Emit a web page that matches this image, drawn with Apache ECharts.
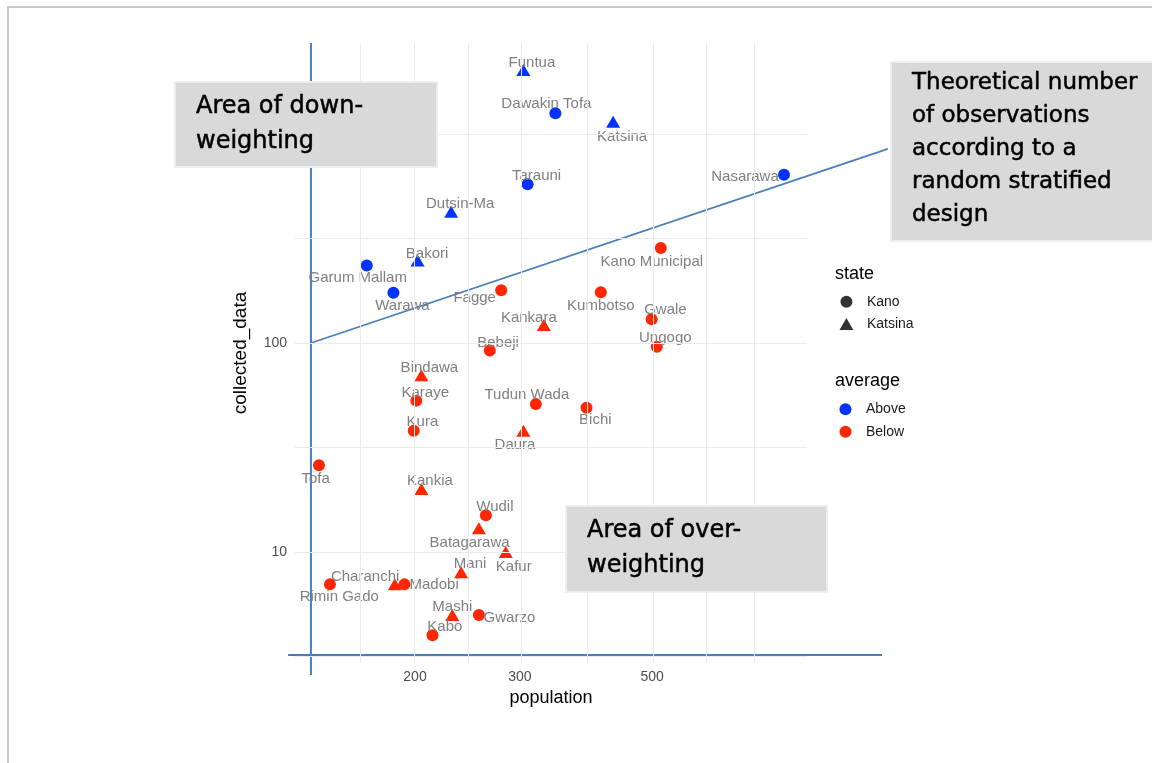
<!DOCTYPE html>
<html>
<head>
<meta charset="utf-8">
<script src="https://cdn.jsdelivr.net/npm/echarts@6/dist/echarts.min.js"></script>
<style>
html,body{margin:0;padding:0;background:#fff;}
#chart{width:1152px;height:763px;}
</style>
</head>
<body>
<div id="chart"></div>
<script>
// ---------- data ----------
const districts = ['Funtua','Dawakin Tofa','Katsina','Tarauni','Nasarawa','Dutsin-Ma','Bakori','Garum Mallam','Warawa','Fagge','Kankara','Kano Municipal','Kumbotso','Gwale','Ungogo','Bebeji','Bindawa','Karaye','Tudun Wada','Kura','Daura','Tofa','Kankia','Wudil','Batagarawa','Kafur','Mani','Charanchi','Madobi','Rimin Gado','Mashi','Gwarzo','Kabo','Bichi'];
const states = ['Katsina','Kano','Katsina','Kano','Kano','Katsina','Katsina','Kano','Kano','Kano','Katsina','Kano','Kano','Kano','Kano','Kano','Katsina','Kano','Kano','Kano','Katsina','Kano','Katsina','Kano','Katsina','Katsina','Katsina','Katsina','Kano','Kano','Katsina','Kano','Kano','Kano'];
const averages = ['Above','Above','Above','Above','Above','Above','Above','Above','Above','Below','Below','Below','Below','Below','Below','Below','Below','Below','Below','Below','Below','Below','Below','Below','Below','Below','Below','Below','Below','Below','Below','Below','Below','Below'];
const population = [304, 344, 430, 309, 832, 230, 202, 166, 184, 279, 329, 517, 410, 499, 509, 267, 205, 201, 319, 199, 304, 138, 205, 263, 256, 284, 239, 185, 192, 144, 231, 256, 214, 388];
const collectedData = [2024, 1256, 1145, 575, 639, 425, 248, 235, 174, 179, 122, 285, 175, 130, 96, 92, 70, 53, 51, 38, 38, 26, 20, 15, 13, 10, 8, 7, 7, 7, 5, 5, 4, 49];

const xTickLabels = [200, 300, 500];
const yTickLabels = [10, 100];
const xGridValues = [163.6, 200, 245, 300, 387, 500, 612, 748];
const yGridValues = [3.162, 10, 31.62, 100, 316.2, 1000];

// theoretical line (population, collected_data) end points
const theoreticalPop = [133.8, 1243];
const theoreticalCollected = [100, 848];
// hand-drawn axis guide lines
const guideVerticalPop = [133.8, 133.8];
const guideVerticalCollected = [2725, 2.58];
const guideHorizontalPop = [122.5, 1215];
const guideHorizontalCollected = [3.215, 3.215];

// ---------- styles ----------
const labelOffsets = {
  'Funtua':[8.5,-8.5],'Dawakin Tofa':[-9,-11],'Katsina':[9,13.3],'Tarauni':[9,-10.3],'Nasarawa':[-39,0.7],
  'Dutsin-Ma':[9,-9],'Bakori':[9.5,-8.7],'Garum Mallam':[-9,11.3],'Warawa':[9,11.3],'Fagge':[-26.5,6],
  'Kankara':[-15,-9],'Kano Municipal':[-9,12],'Kumbotso':[0,11.7],'Gwale':[13.8,-10.7],'Ungogo':[8.5,-10],
  'Bebeji':[8.3,-9.3],'Bindawa':[8,-8.7],'Karaye':[9,-9],'Tudun Wada':[-9,-10.3],'Kura':[8.7,-10],
  'Daura':[-8.4,12.3],'Tofa':[-3.3,11.7],'Kankia':[8.5,-10],'Wudil':[9,-10],'Batagarawa':[-9.3,13],
  'Kafur':[8,13],'Mani':[9,-9.7],'Charanchi':[-29.7,-9],'Madobi':[29.7,-1.4],'Rimin Gado':[9.3,11.3],
  'Mashi':[0,-10],'Gwarzo':[30.5,1],'Kabo':[12.3,-10],'Bichi':[8.8,10.3]
};
const LABEL_NUDGE_Y = 1.5;
const avgColors = {Above:'#0433ff', Below:'#ff2600'};
const FONT = 'Liberation Sans, Arial, Helvetica, sans-serif';
const ANN_FONT = 'DejaVu Sans, sans-serif';
const GUIDE = '#4a7ebb';

const lg = Math.log10;
function pointsFor(st) {
  const out = [];
  districts.forEach((d, i) => {
    if (states[i] !== st) return;
    const off = labelOffsets[d] || [0, 0];
    out.push({
      name: d,
      value: [lg(population[i]), lg(collectedData[i])],
      itemStyle: {color: avgColors[averages[i]], opacity: 1},
      label: {offset: [off[0], off[1] + LABEL_NUDGE_Y]}
    });
  });
  return out;
}
function pairs(xs, ys) { return xs.map((x, i) => [lg(x), lg(ys[i])]); }

// same px-per-decade in both grids: x 596 px/decade, y 209 px/decade
const X0 = lg(200), XPX = 596, XREF = 415;
const Y0 = 2, YPX = 209, YREF = 343;
const xAt = px => X0 + (px - XREF) / XPX;
const yAt = py => Y0 + (YREF - py) / YPX;

const chart = echarts.init(document.getElementById('chart'), null, {renderer: 'canvas'});
const pointLabel = {show: true, position: 'inside', formatter: '{b}', color: '#7f7f7f', fontSize: 15, fontFamily: FONT};
const annText = (txt, size, lh) => ({text: txt, fill: '#000', stroke: '#000', lineWidth: 0.5, fontSize: size, fontFamily: ANN_FONT, lineHeight: lh, align: 'left', verticalAlign: 'top'});

chart.setOption({
  animation: false,
  backgroundColor: '#ffffff',
  grid: [
    {left: 295, right: 1152 - 807, top: 43, bottom: 763 - 663, containLabel: false},
    {left: 288, right: 1152 - 888, top: 43, bottom: 763 - 675, containLabel: false}
  ],
  xAxis: [
    {
      type: 'value', gridIndex: 0,
      min: xAt(295), max: xAt(807),
      name: 'population', nameLocation: 'middle', nameGap: 25,
      nameTextStyle: {fontSize: 18, color: '#000', fontFamily: FONT},
      axisLine: {show: false}, axisTick: {show: false}, splitLine: {show: false},
      axisLabel: {customValues: xTickLabels.map(lg), formatter: v => String(Math.round(Math.pow(10, v))), color: '#4d4d4d', fontSize: 14, fontFamily: FONT, margin: 7}
    },
    {
      type: 'value', gridIndex: 1, min: xAt(288), max: xAt(888), show: false,
      axisLine: {show: false}, axisTick: {show: false}, splitLine: {show: false}, axisLabel: {show: false}
    }
  ],
  yAxis: [
    {
      type: 'value', gridIndex: 0,
      min: yAt(663), max: yAt(43),
      name: 'collected_data', nameLocation: 'middle', nameGap: 45, nameRotate: 90,
      nameTextStyle: {fontSize: 19, color: '#000', fontFamily: FONT},
      axisLine: {show: false}, axisTick: {show: false}, splitLine: {show: false},
      axisLabel: {customValues: yTickLabels.map(lg), formatter: v => String(Math.round(Math.pow(10, v))), color: '#4d4d4d', fontSize: 14, fontFamily: FONT, margin: 8}
    },
    {
      type: 'value', gridIndex: 1, min: yAt(675), max: yAt(43), show: false,
      axisLine: {show: false}, axisTick: {show: false}, splitLine: {show: false}, axisLabel: {show: false}
    }
  ],
  title: [
    {text: 'state', left: 835, top: 265, padding: 0, textStyle: {fontSize: 18, fontWeight: 'normal', color: '#000', fontFamily: FONT}},
    {text: 'average', left: 835, top: 372, padding: 0, textStyle: {fontSize: 18, fontWeight: 'normal', color: '#000', fontFamily: FONT}}
  ],
  legend: [
    {
      data: [
        {name: 'Kano', icon: 'circle', itemStyle: {color: '#000'}},
        {name: 'Katsina', icon: 'path://M0,26 L15,0 L30,26 Z', itemStyle: {color: '#000'}}
      ],
      orient: 'vertical', left: 839.5, top: 294.7, itemWidth: 31, itemHeight: 12, itemGap: 8.3, padding: 0,
      selectedMode: false, textStyle: {fontSize: 14, color: '#1a1a1a', fontFamily: FONT}
    },
    {
      data: [
        {name: 'Above', icon: 'circle'},
        {name: 'Below', icon: 'circle'}
      ],
      orient: 'vertical', left: 839.5, top: 402.3, itemWidth: 31, itemHeight: 12, itemGap: 8.4, padding: 0,
      selectedMode: false, textStyle: {fontSize: 14, color: '#1a1a1a', fontFamily: FONT}
    }
  ],
  series: [
    {
      type: 'line', name: 'grid', data: [], silent: true, z: 1, symbol: 'none', xAxisIndex: 0, yAxisIndex: 0,
      markLine: {
        silent: true, symbol: 'none', animation: false,
        label: {show: false},
        lineStyle: {color: '#ebebeb', width: 1, type: 'solid'},
        emphasis: {disabled: true},
        data: xGridValues.map(v => ({xAxis: lg(v)})).concat(yGridValues.map(v => ({yAxis: lg(v)})))
      }
    },
    {
      type: 'line', name: 'guideV', xAxisIndex: 1, yAxisIndex: 1, data: pairs(guideVerticalPop, guideVerticalCollected),
      symbol: 'none', silent: true, z: 2, lineStyle: {color: GUIDE, width: 2}
    },
    {
      type: 'line', name: 'guideH', xAxisIndex: 1, yAxisIndex: 1, data: pairs(guideHorizontalPop, guideHorizontalCollected),
      symbol: 'none', silent: true, z: 2, lineStyle: {color: GUIDE, width: 2}
    },
    {
      type: 'line', name: 'theoretical', xAxisIndex: 1, yAxisIndex: 1, data: pairs(theoreticalPop, theoreticalCollected),
      symbol: 'none', silent: true, z: 2, lineStyle: {color: GUIDE, width: 1.8}
    },
    {
      type: 'scatter', name: 'Kano', symbol: 'circle', symbolSize: 12, z: 3, xAxisIndex: 0, yAxisIndex: 0,
      data: pointsFor('Kano'), label: pointLabel, emphasis: {disabled: true}
    },
    {
      type: 'scatter', name: 'Katsina', symbol: 'triangle', symbolSize: [14, 12], z: 3, xAxisIndex: 0, yAxisIndex: 0,
      data: pointsFor('Katsina'), label: pointLabel, emphasis: {disabled: true}
    },
    {type: 'scatter', name: 'Above', data: [], itemStyle: {color: avgColors.Above, opacity: 1}},
    {type: 'scatter', name: 'Below', data: [], itemStyle: {color: avgColors.Below, opacity: 1}}
  ],
  graphic: [
    {type: 'rect', silent: true, z: 0, shape: {x: 8, y: 7, width: 1200, height: 800}, style: {fill: 'none', stroke: '#c8c8c8', lineWidth: 2}},
    {type: 'rect', silent: true, z: 100, shape: {x: 175, y: 82, width: 262, height: 85}, style: {fill: '#d9d9d9', stroke: '#eeeeee', lineWidth: 2}},
    {type: 'text', silent: true, z: 101, x: 196, y: 89, style: annText('Area of down-\nweighting', 24, 35)},
    {type: 'rect', silent: true, z: 100, shape: {x: 891, y: 62, width: 270, height: 179}, style: {fill: '#d9d9d9', stroke: '#eeeeee', lineWidth: 2}},
    {type: 'text', silent: true, z: 101, x: 912, y: 67, style: annText('Theoretical number\nof observations\naccording to a\nrandom stratified\ndesign', 23, 33)},
    {type: 'rect', silent: true, z: 100, shape: {x: 566, y: 506, width: 261, height: 86}, style: {fill: '#d9d9d9', stroke: '#eeeeee', lineWidth: 2}},
    {type: 'text', silent: true, z: 101, x: 587, y: 513.5, style: annText('Area of over-\nweighting', 24, 35)}
  ]
});
</script>
</body>
</html>
